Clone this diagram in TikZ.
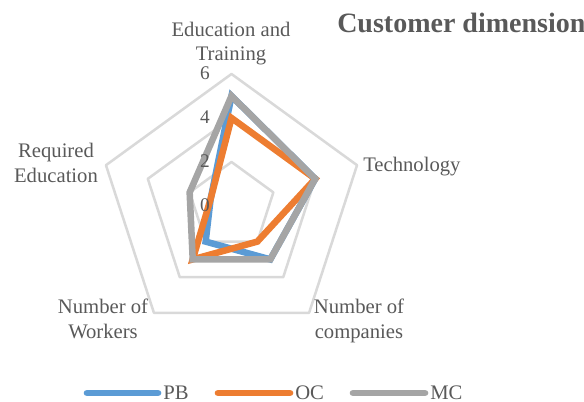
\documentclass[tikz,border=0pt]{standalone}
\usepackage{fontspec}
\setmainfont{Liberation Serif}
\definecolor{pbblue}{HTML}{5B9BD5}
\definecolor{ocorange}{HTML}{ED7D31}
\definecolor{mcgray}{HTML}{A5A5A5}
\definecolor{gridgray}{HTML}{D9D9D9}
\definecolor{txt}{HTML}{595959}
\begin{document}
\begin{tikzpicture}[x=0.75pt,y=-0.75pt,
  lbl/.style={text=txt,font=\fontsize{15.5}{18.6}\selectfont,inner sep=0pt},
  ticklbl/.style={text=txt,font=\fontsize{14.5}{17}\selectfont,inner sep=0pt,anchor=base east},
  series/.style={line width=4.9pt,miter limit=10},
  gridline/.style={draw=gridgray,line width=1.9pt,line join=round},
  legline/.style={line width=5pt,line cap=round}]
\useasboundingbox (0,0) rectangle (584,402);

\begin{scope}[shift={(231.5,206)},yscale=-1]
  \foreach \r in {44,88,132}
    \draw[gridline] (90:\r)--(18:\r)--(-54:\r)--(-126:\r)--(162:\r)--cycle;
  % PB
  \draw[series,pbblue] (90:110)--(18:88)--(-54:66)--(-126:44)--(162:22)--cycle;
  % OC
  \draw[series,ocorange] (90:88)--(18:88)--(-54:44)--(-126:66)--(162:22)--cycle;
  % MC
  \draw[series,mcgray] (90:110)--(18:88)--(-54:66)--(-126:66)--(162:44)--cycle;
\end{scope}

\node[ticklbl] (t6) at (210,80) {6};
\node[ticklbl] (t4) at (210,124) {4};
\node[ticklbl] (t2) at (210,168) {2};
\node[ticklbl] (t0) at (210,212) {0};

\node[lbl,anchor=base] (edu1) at (231,37) {Education and};
\node[lbl,anchor=base] (edu2) at (231,61) {Training};
\node[lbl,anchor=base west] (tech) at (363,172) {Technology};
\node[lbl,anchor=base] (comp1) at (359,313) {Number of};
\node[lbl,anchor=base] (comp2) at (359,338) {companies};
\node[lbl,anchor=base] (wk1) at (103,313) {Number of};
\node[lbl,anchor=base] (wk2) at (103,338) {Workers};
\node[lbl,anchor=base] (req1) at (56,158) {Required};
\node[lbl,anchor=base] (req2) at (56,183) {Education};

\node[anchor=base west,text=txt,font=\fontsize{21}{25}\selectfont\bfseries,inner sep=0pt] (title) at (337,33) {Customer dimension};

\coordinate (pbA) at (87,393); \coordinate (pbB) at (158,393);
\draw[legline,pbblue] (pbA)--(pbB);
\node[lbl,anchor=base west] (pbT) at (163,399) {PB};
\coordinate (ocA) at (218,393); \coordinate (ocB) at (290,393);
\draw[legline,ocorange] (ocA)--(ocB);
\node[lbl,anchor=base west] (ocT) at (295,399) {OC};
\coordinate (mcA) at (353,393); \coordinate (mcB) at (425,393);
\draw[legline,mcgray] (mcA)--(mcB);
\node[lbl,anchor=base west] (mcT) at (430,399) {MC};
\end{tikzpicture}
\end{document}
